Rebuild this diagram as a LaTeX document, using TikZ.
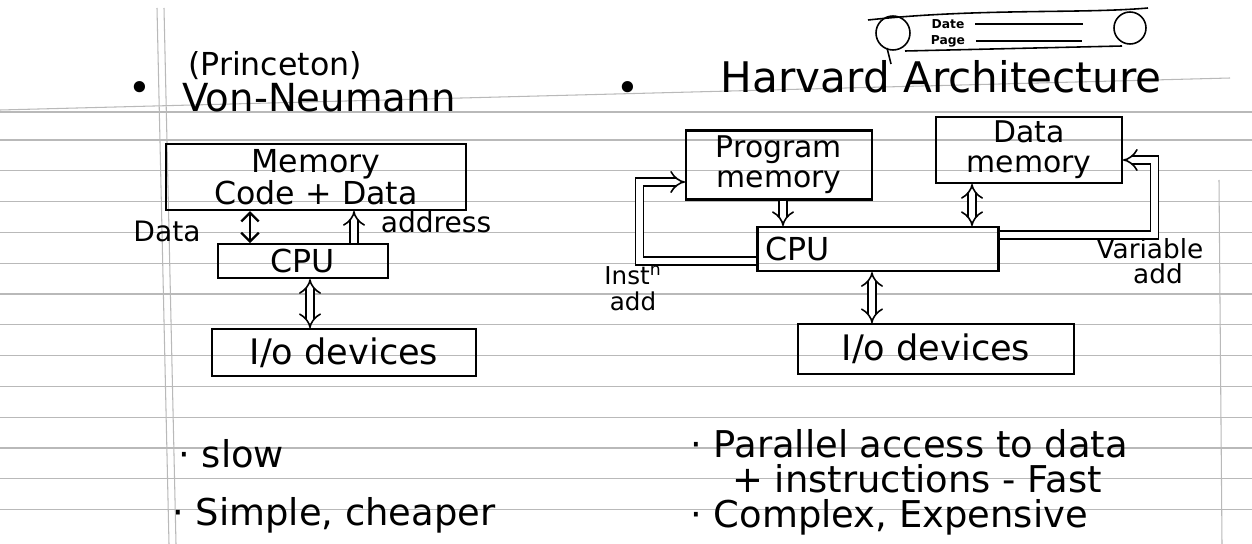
\documentclass[tikz,border=0pt]{standalone}
\usepackage{fontspec}
\setmainfont{DejaVu Sans}
\usetikzlibrary{positioning,calc,arrows.meta}

\begin{document}
\begin{tikzpicture}[
  x=0.02cm, y=-0.02cm,
  box/.style={draw, line width=1.2pt, inner sep=1pt, align=center, font=\fontsize{18}{17}\selectfont},
  lbl/.style={font=\fontsize{15}{15}\selectfont, inner sep=0pt},
  head/.style={font=\fontsize{22}{24}\selectfont, inner sep=0pt},
  note/.style={font=\fontsize{21}{24}\selectfont, anchor=west, inner sep=0pt},
  small/.style={font=\fontsize{7}{8}\selectfont\bfseries, inner sep=0pt},
  rule/.style={gray!55, line width=0.6pt},
  pen/.style={line width=0.9pt},
  dbl/.style={double, double distance=3.5pt, line width=0.9pt},
  arr/.style={line width=1.3pt, {Straight Barb[length=5pt]}-{Straight Barb[length=5pt]}}
]
\useasboundingbox (0,0) rectangle (1252,544);

% ruled page
\draw[rule] (0,110) -- (1230,78);
\draw[rule] (0,112) -- (1252,112);
\foreach \k in {0,...,12}
  \draw[rule] (0,{140+30.8*\k}) -- (1252,{140+30.8*\k});
\draw[rule] (157,8) -- (169,544);
\draw[rule] (164,8) -- (176,544);
\draw[rule] (1219,180) -- (1222,544);

% date / page strip
\draw[pen] (868,20) .. controls (980,8) and (1080,14) .. (1148,8);
\draw[pen] (893,33) circle[radius=0.34cm];
\draw[pen] (1130,28) circle[radius=0.32cm];
\draw[pen] (905,51) -- (1122,46);
\draw[pen] (887,48) -- (891,64);
\node[small] (date) at (948,24) {Date};
\node[small] (page) at (948,41) {Page};
\draw[pen] ([xshift=6pt]date.east) -- ++(108,0);
\draw[pen] ([xshift=6pt]page.east) -- ++(106,0);

% Von-Neumann
\node[head] (vnb) at (140,92) {\textbullet};
\node[head, font=\fontsize{18}{20}\selectfont] (prin) at (275,66) {(Princeton)};
\node[head] (vn) at (319,98) {Von-Neumann};
\node[box, minimum width=6cm, minimum height=1.32cm] (mem) at (316,177) {Memory\\Code + Data};
\node[box, minimum width=3.4cm, minimum height=0.68cm, below=0.64cm of mem, xshift=-0.26cm] (cpu) {CPU};
\node[box, font=\fontsize{20}{20}\selectfont, minimum width=5.28cm, minimum height=0.94cm, below=0.98cm of cpu, xshift=0.82cm] (io) {I/o devices};

\draw[arr] ([xshift=-1.06cm]cpu.north) -- ([xshift=-1.06cm]cpu.north |- mem.south);
\draw[dbl, -{Implies}] ([xshift=1.02cm]cpu.north) -- ([xshift=1.02cm]cpu.north |- mem.south);
\draw[dbl, {Implies}-{Implies}] ([xshift=0.14cm]cpu.south) -- ([xshift=0.14cm]cpu.south |- io.north);
\node[lbl, font=\fontsize{16}{16}\selectfont] (dlbl) at (167,231) {Data};
\node[lbl, font=\fontsize{16}{16}\selectfont] (albl) at (436,222) {address};

% Harvard
\node[head] (hvb) at (628,92) {\textbullet};
\node[head, font=\fontsize{24}{26}\selectfont] (hv) at (941,77) {Harvard Architecture};
\node[box, font=\fontsize{17}{17}\selectfont, minimum width=3.72cm, minimum height=1.38cm] (pmem) at (779,165) {Program\\memory};
\node[box, font=\fontsize{17}{17}\selectfont, minimum width=3.72cm, minimum height=1.32cm] (dmem) at (1029,150) {Data\\memory};
\node[box, text width=4.5cm, align=left, minimum width=4.82cm, minimum height=0.88cm, below=0.51cm of pmem, xshift=1.98cm] (hcpu) {CPU};
\node[box, font=\fontsize{20}{20}\selectfont, minimum width=5.52cm, minimum height=1cm, below=1.02cm of hcpu, xshift=1.16cm] (hio) {I/o devices};

\draw[dbl, -{Implies}] ([xshift=0.08cm]pmem.south) -- ([xshift=0.08cm]pmem.south |- hcpu.north);
\draw[dbl, {Implies}-{Implies}] ([xshift=-1.14cm]dmem.south) -- ([xshift=-1.14cm]dmem.south |- hcpu.north);
\draw[dbl, {Implies}-{Implies}] ([xshift=-0.12cm]hcpu.south) -- ([xshift=-0.12cm]hcpu.south |- hio.north);
\draw[dbl, -{Implies}] ([yshift=-0.24cm]hcpu.west) -- ++(-117,0) |- ([yshift=-0.34cm]pmem.west);
\draw[dbl, -{Implies}] ([yshift=0.28cm]hcpu.east) -- ++(155,0) |- ([yshift=-0.2cm]dmem.east);
\node[lbl, font=\fontsize{14}{14}\selectfont] (inst) at (633,275) {Inst\textsuperscript{n}};
\node[lbl, font=\fontsize{14}{14}\selectfont] (iadd) at (633,301) {add};
\node[lbl] (var) at (1150,249) {Variable};
\node[lbl] (vadd) at (1158,274) {add};

% notes
\node[note] (slow) at (178,454) {· slow};
\node[note] (cheap) at (172,515) {· Simple, cheaper};
\node[note] (par) at (690,444) {· Parallel access to data};
\node[note] (fast) at (732,479) {+ instructions - Fast};
\node[note] (cplx) at (690,517) {· Complex, Expensive};
\end{tikzpicture}
\end{document}
